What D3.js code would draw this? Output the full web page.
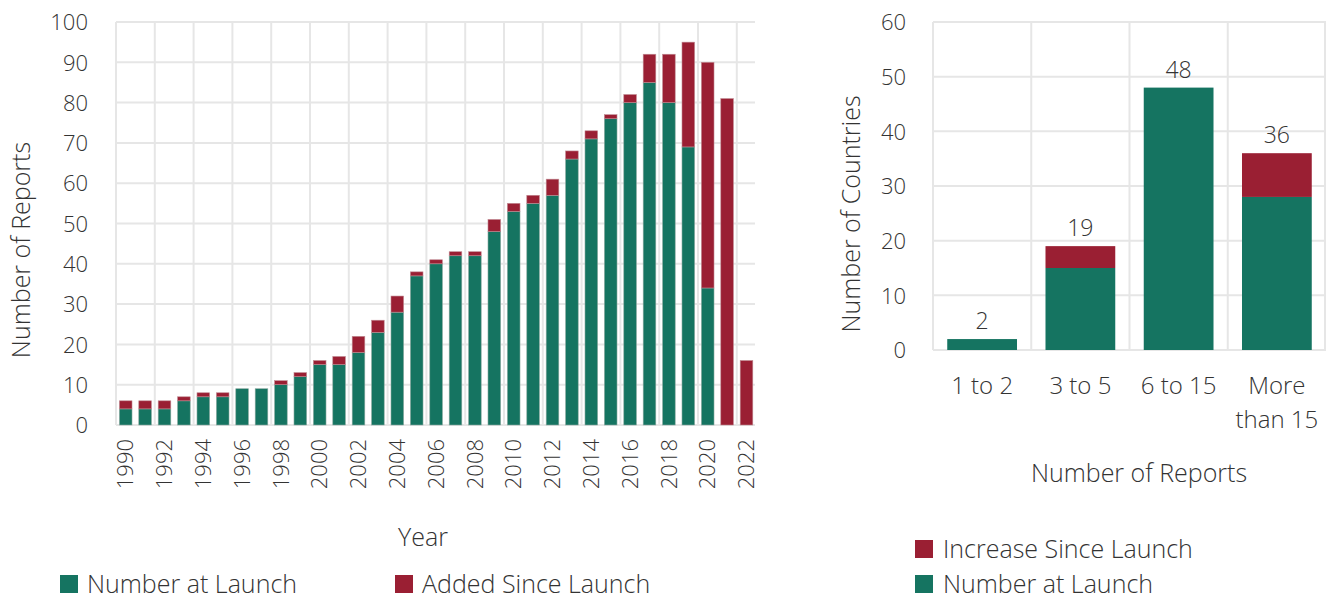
<!DOCTYPE html>
<html lang="en">
<head>
<meta charset="utf-8">
<title>Reports</title>
<script src="https://d3js.org/d3.v7.min.js"></script>
<style>
  body { margin: 0; background: #fff; }
  svg text { font-family: "Open Sans", Lato, sans-serif; font-weight: 300; fill: #333; }
  .grid line { stroke: #e6e6e6; stroke-width: 2; }
  .grid path, .axis path, .axis line { display: none; }
</style>
</head>
<body>
<svg id="chart" width="1327" height="600"></svg>
<script>
// left panel: reports per year
var years = d3.range(1990, 2023);
var atLaunch = [4, 4, 4, 6, 7, 7, 9, 9, 10, 12, 15, 15, 18, 23, 28, 37, 40, 42, 42, 48, 53, 55, 57, 66, 71, 76, 80, 85, 80, 69, 34, 0, 0];
var addedSince = [2, 2, 2, 1, 1, 1, 0, 0, 1, 1, 1, 2, 4, 3, 4, 1, 1, 1, 1, 3, 2, 2, 4, 2, 2, 1, 2, 7, 12, 26, 56, 81, 16];
var yTicksLeft = [0, 10, 20, 30, 40, 50, 60, 70, 80, 90, 100];

// right panel: countries by number of reports
var groups = ["1 to 2", "3 to 5", "6 to 15", "More than 15"];
var countriesAtLaunch = [2, 15, 48, 28];
var countriesIncrease = [0, 4, 0, 8];
var yTicksRight = [0, 10, 20, 30, 40, 50, 60];

var green = "#157461", red = "#9a1f33";
var fs = "22px", lfs = "25px";
var svg = d3.select("#chart");

// ---------- left chart ----------
var L = { left: 116, right: 755, top: 22, bottom: 425 };
var x1 = d3.scaleBand().domain(years).range([L.left, L.left + 19.4 * years.length]).paddingInner(0.35).paddingOuter(0.175);
var y1 = d3.scaleLinear().domain([0, 100]).range([L.bottom, L.top]);

var g1 = svg.append("g");
// horizontal grid
g1.append("g").attr("class", "grid")
  .selectAll("line").data(yTicksLeft).join("line")
  .attr("x1", L.left).attr("x2", L.right)
  .attr("y1", d => y1(d)).attr("y2", d => y1(d));
// vertical grid, every other year
g1.append("g").attr("class", "grid")
  .selectAll("line").data(years.filter(d => d % 2 == 0)).join("line")
  .attr("x1", d => x1(d) - x1.step() * x1.paddingOuter()).attr("x2", d => x1(d) - x1.step() * x1.paddingOuter())
  .attr("y1", L.top).attr("y2", L.bottom);

var rows = years.map((d, i) => ({ year: d, a: atLaunch[i], b: addedSince[i] }));
g1.append("g").selectAll("rect").data(rows).join("rect")
  .attr("x", d => x1(d.year)).attr("width", x1.bandwidth())
  .attr("y", d => y1(d.a)).attr("height", d => y1(0) - y1(d.a))
  .attr("fill", green).attr("stroke", "#8aa9a0").attr("stroke-width", 0.6)
  .style("display", d => d.a > 0 ? null : "none");
g1.append("g").selectAll("rect").data(rows).join("rect")
  .attr("x", d => x1(d.year)).attr("width", x1.bandwidth())
  .attr("y", d => y1(d.a + d.b)).attr("height", d => y1(d.a) - y1(d.a + d.b))
  .attr("fill", red).attr("stroke", "#c08a92").attr("stroke-width", 0.6)
  .style("display", d => d.b > 0 ? null : "none");

// y axis
g1.append("g").attr("class", "axis").attr("transform", "translate(" + (L.left - 28) + ",0)")
  .call(d3.axisLeft(y1).tickValues(yTicksLeft).tickSize(0).tickPadding(0))
  .selectAll("text").style("font-size", fs).attr("dy", "0.35em");
// x axis
var xa = g1.append("g").attr("class", "axis").attr("transform", "translate(0," + (L.bottom + 14) + ")")
  .call(d3.axisBottom(x1).tickValues(years.filter(d => d % 2 == 0)).tickSize(0).tickPadding(0));
xa.selectAll("text").style("font-size", fs)
  .attr("text-anchor", "end").attr("transform", "rotate(-90)").attr("x", 0).attr("y", 0).attr("dy", "0.35em");

svg.append("text").attr("transform", "translate(21,250) rotate(-90)").attr("text-anchor", "middle")
  .attr("dy", "0.35em").style("font-size", lfs).text("Number of Reports");
svg.append("text").attr("x", 423).attr("y", 537).attr("text-anchor", "middle")
  .attr("dy", "0.35em").style("font-size", lfs).text("Year");

var leg1 = [{ label: "Number at Launch", color: green, x: 60 }, { label: "Added Since Launch", color: red, x: 395 }];
var lg1 = svg.append("g").selectAll("g").data(leg1).join("g")
  .attr("transform", d => "translate(" + d.x + ",584)");
lg1.append("rect").attr("x", 0).attr("y", -9).attr("width", 18).attr("height", 18).attr("fill", d => d.color);
lg1.append("text").attr("x", 27).attr("dy", "0.35em").style("font-size", lfs).text(d => d.label);

// ---------- right chart ----------
var R = { left: 933, right: 1326, top: 22, bottom: 350 };
var x2 = d3.scaleBand().domain(groups).range([R.left, R.right]).paddingInner(0.29).paddingOuter(0.145);
var y2 = d3.scaleLinear().domain([0, 60]).range([R.bottom, R.top]);

var g2 = svg.append("g");
g2.append("g").attr("class", "grid")
  .selectAll("line").data(yTicksRight).join("line")
  .attr("x1", R.left).attr("x2", R.right)
  .attr("y1", d => y2(d)).attr("y2", d => y2(d));
var edges = groups.map(d => x2(d) - x2.step() * x2.paddingOuter()).concat([R.right - 1]);
g2.append("g").attr("class", "grid")
  .selectAll("line").data(edges).join("line")
  .attr("x1", d => d).attr("x2", d => d)
  .attr("y1", R.top).attr("y2", R.bottom);

var rows2 = groups.map((d, i) => ({ g: d, a: countriesAtLaunch[i], b: countriesIncrease[i] }));
g2.append("g").selectAll("rect").data(rows2).join("rect")
  .attr("x", d => x2(d.g)).attr("width", x2.bandwidth())
  .attr("y", d => y2(d.a)).attr("height", d => y2(0) - y2(d.a))
  .attr("fill", green);
g2.append("g").selectAll("rect").data(rows2.filter(d => d.b > 0)).join("rect")
  .attr("x", d => x2(d.g)).attr("width", x2.bandwidth())
  .attr("y", d => y2(d.a + d.b)).attr("height", d => y2(d.a) - y2(d.a + d.b))
  .attr("fill", red);
g2.append("g").selectAll("text").data(rows2).join("text")
  .attr("x", d => x2(d.g) + x2.bandwidth() / 2).attr("y", d => y2(d.a + d.b) - 10)
  .attr("text-anchor", "middle").style("font-size", "23px").text(d => d.a + d.b);

g2.append("g").attr("class", "axis").attr("transform", "translate(" + (R.left - 27) + ",0)")
  .call(d3.axisLeft(y2).tickValues(yTicksRight).tickSize(0).tickPadding(0))
  .selectAll("text").style("font-size", fs).attr("dy", "0.35em");

var xb = g2.append("g").attr("class", "axis").attr("transform", "translate(0," + (R.bottom + 36) + ")")
  .call(d3.axisBottom(x2).tickSize(0).tickPadding(0));
xb.selectAll("text").style("font-size", "24px").attr("y", 0).attr("dy", "0.35em")
  .each(function (d) {
    var t = d3.select(this);
    if (d == "More than 15") {
      t.text(null);
      t.append("tspan").attr("x", 0).attr("dy", "0.35em").text("More");
      t.append("tspan").attr("x", 0).attr("dy", "1.4em").text("than 15");
    }
  });

svg.append("text").attr("transform", "translate(851,214) rotate(-90)").attr("text-anchor", "middle")
  .attr("dy", "0.35em").style("font-size", lfs).text("Number of Countries");
svg.append("text").attr("x", 1139).attr("y", 473).attr("text-anchor", "middle")
  .attr("dy", "0.35em").style("font-size", lfs).text("Number of Reports");

var leg2 = [{ label: "Increase Since Launch", color: red, y: 549 }, { label: "Number at Launch", color: green, y: 584 }];
var lg2 = svg.append("g").selectAll("g").data(leg2).join("g")
  .attr("transform", d => "translate(915," + d.y + ")");
lg2.append("rect").attr("x", 0).attr("y", -9).attr("width", 18).attr("height", 18).attr("fill", d => d.color);
lg2.append("text").attr("x", 28).attr("dy", "0.35em").style("font-size", lfs).text(d => d.label);
</script>
</body>
</html>
